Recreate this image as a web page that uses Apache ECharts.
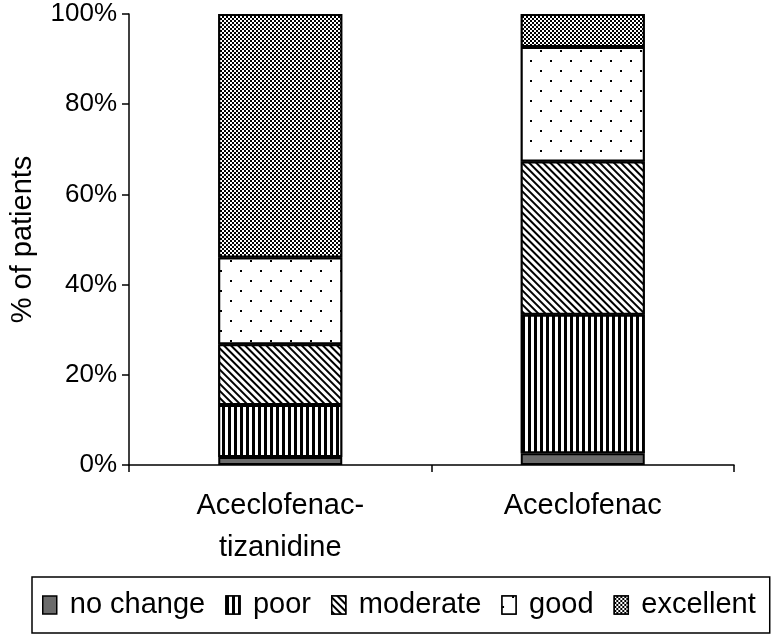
<!DOCTYPE html>
<html>
<head>
<meta charset="utf-8">
<script src="https://cdn.jsdelivr.net/npm/echarts@6/dist/echarts.min.js"></script>
<style>html,body{margin:0;padding:0;background:#fff;}#c{width:772px;height:637px;}</style>
</head>
<body>
<div id="c"></div>
<script>
var categories = ['Aceclofenac-\ntizanidine', 'Aceclofenac'];
var seriesNames = ['no change', 'poor', 'moderate', 'good', 'excellent'];
var noChange = [1.8, 2.6];
var poor = [11.5, 30.7];
var moderate = [13.5, 34.0];
var good = [19.2, 25.4];
var excellent = [54.0, 7.3];
var yTicks = [0, 20, 40, 60, 80, 100];

var FONT = 'Liberation Sans';
var values = [noChange, poor, moderate, good, excellent];
var styles = [
  { color: '#6b6b6b' },
  { color: '#fff', decal: { symbol: 'rect', symbolSize: 1, color: '#000', backgroundColor: '#fff', dashArrayX: [3, 3], dashArrayY: [10, 0], rotation: 0 } },
  { color: '#fff', decal: { symbol: 'rect', symbolSize: 1, color: '#000', backgroundColor: '#fff', dashArrayX: [1, 0], dashArrayY: [2, 2.5], rotation: Math.PI / 4 } },
  { color: '#fff', decal: { symbol: 'rect', symbolSize: 1, color: '#000', backgroundColor: '#fff', dashArrayX: [[2, 18], [0, 10, 2, 8]], dashArrayY: [2, 8], rotation: 0 } },
  { color: '#fff', decal: { symbol: 'rect', symbolSize: 1, color: '#000', backgroundColor: '#fff', dashArrayX: [[2, 2], [0, 2, 2, 0]], dashArrayY: [2, 0], rotation: 0 } }
];

var series = seriesNames.map(function (n, i) {
  var st = styles[i];
  var itemStyle = { color: st.color, borderColor: '#000', borderWidth: 2 };
  if (st.decal) itemStyle.decal = st.decal;
  return {
    name: n, type: 'bar', stack: 'total', barWidth: 124,
    data: values[i], itemStyle: itemStyle, emphasis: { disabled: true }
  };
});

var chart = echarts.init(document.getElementById('c'), null, { renderer: 'canvas' });
chart.setOption({
  animation: false,
  backgroundColor: '#fff',
  grid: { left: 124, right: 38, top: 14, bottom: 172, containLabel: false },
  legend: {
    data: seriesNames,
    left: 32, right: 0, top: 577,
    padding: [11, 14, 11, 10],
    borderColor: '#000', borderWidth: 1.5,
    itemWidth: 14, itemHeight: 18, itemGap: 20,
    icon: 'rect',
    itemStyle: { borderWidth: 1.5, borderColor: '#000' },
    textStyle: { fontFamily: FONT, fontSize: 29, lineHeight: 34, color: '#000', padding: [0, 0, 0, 8] },
    selectedMode: false
  },
  xAxis: {
    type: 'category', data: categories,
    axisLine: { lineStyle: { color: '#000', width: 1.5 } },
    axisTick: { show: true, length: 7, lineStyle: { color: '#000', width: 1.5 } },
    axisLabel: { fontFamily: FONT, fontSize: 29, color: '#000', margin: 20, lineHeight: 42 }
  },
  yAxis: {
    type: 'value', min: 0, max: 100, interval: 20,
    name: '% of patients', nameLocation: 'middle', nameGap: 92,
    nameTextStyle: { fontFamily: FONT, fontSize: 29, color: '#000' },
    axisLine: { show: true, lineStyle: { color: '#000', width: 1.5 } },
    axisTick: { show: true, length: 7, lineStyle: { color: '#000', width: 1.5 } },
    splitLine: { show: false },
    axisLabel: { fontFamily: FONT, fontSize: 26, color: '#000', margin: 12,
      customValues: yTicks,
      formatter: function (v) { return v + '%'; } }
  },
  series: series
});
</script>
</body>
</html>
